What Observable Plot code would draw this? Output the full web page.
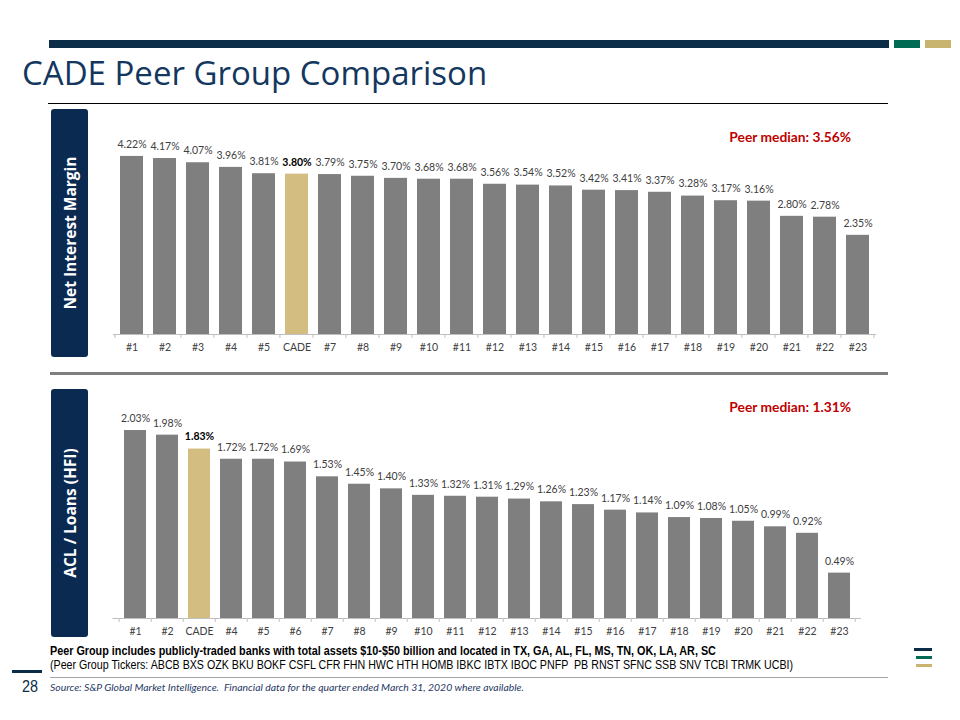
<!DOCTYPE html>
<html>
<head>
<meta charset="utf-8">
<script src="https://cdn.jsdelivr.net/npm/d3@7"></script>
<script src="https://cdn.jsdelivr.net/npm/@observablehq/plot@0.6"></script>
<style>
  html, body { margin: 0; padding: 0; background: #fff; }
  #page { position: relative; width: 960px; height: 720px; overflow: hidden; background: #fff; font-family: "Open Sans", sans-serif; }
  .abs { position: absolute; }
  .box { position: absolute; background: #0b2a52; border-radius: 3px; display: flex; align-items: center; justify-content: center; }
  .box span { transform: rotate(-90deg); white-space: nowrap; color: #fff; font-weight: 700; font-size: 15.5px; font-family: "Open Sans", sans-serif; }
  .median { position: absolute; color: #c00000; font-family: Lato, sans-serif; font-weight: 700; font-size: 13.8px; white-space: nowrap; }
  .chart { position: absolute; left: 0; }
  .narrow { position: absolute; font-family: 'Liberation Sans Narrow','Arial Narrow','Liberation Sans',sans-serif; font-size: 12px; color: #000; white-space: nowrap; transform: scaleX(0.9); transform-origin: left center; }
</style>
</head>
<body>
<div id="page">
  <div class="abs" style="left:49px; top:40px; width:840px; height:8px; background:#0c2d48;"></div>
  <div class="abs" style="left:894px; top:40px; width:26px; height:8px; background:#006b52;"></div>
  <div class="abs" style="left:925px; top:40px; width:26px; height:8px; background:#c9b46f;"></div>
  <div class="abs" id="title" style="left:22px; top:50px; font-family:'Open Sans', sans-serif; font-size:33px; color:#13375e; white-space:nowrap;">CADE Peer Group Comparison</div>
  <div class="abs" style="left:48px; top:103px; width:840px; height:1px; background:#000;"></div>

  <div class="box" style="left:51px; top:109px; width:37px; height:248px;"><span>Net Interest Margin</span></div>
  <div class="median" style="right:109px; top:128px;">Peer median: 3.56%</div>
  <div class="chart" id="chart1" style="top:110px;"></div>

  <div class="abs" style="left:50px; top:372px; width:838px; height:3px; background:#7f7f7f;"></div>

  <div class="box" style="left:51px; top:389px; width:37px; height:248px;"><span>ACL / Loans (HFI)</span></div>
  <div class="median" style="right:109px; top:398px;">Peer median: 1.31%</div>
  <div class="chart" id="chart2" style="top:390px;"></div>

  <div class="narrow" style="left:50px; top:644px; font-weight:700;">Peer Group includes publicly-traded banks with total assets $10-$50 billion and located in TX, GA, AL, FL, MS, TN, OK, LA, AR, SC</div>
  <div class="narrow" style="left:50px; top:658px; transform:scaleX(0.888);">(Peer Group Tickers: ABCB BXS OZK BKU BOKF CSFL CFR FHN HWC HTH HOMB IBKC IBTX IBOC PNFP &nbsp;PB RNST SFNC SSB SNV TCBI TRMK UCBI)</div>
  <div class="abs" style="left:12px; top:670px; width:30px; height:3px; background:#0c2d48;"></div>
  <div class="abs" style="left:50px; top:677px; width:838px; height:1px; background:#a6a6a6;"></div>
  <div class="narrow" style="left:22px; top:678px; font-size:16px; color:#0c2d48;">28</div>
  <div class="abs" style="left:50px; top:681px; font-family:Lato, sans-serif; font-style:italic; font-size:10.4px; color:#1f3864; white-space:nowrap;">Source: S&amp;P Global Market Intelligence.&nbsp; Financial data for the quarter ended March 31, 2020 where available.</div>

  <div class="abs" style="left:914px; top:648px; width:18px; height:3px; background:#0c2d48;"></div>
  <div class="abs" style="left:916px; top:656px; width:16px; height:3px; background:#006b52;"></div>
  <div class="abs" style="left:916px; top:664px; width:16px; height:3px; background:#c9b46f;"></div>
</div>
<script>
// ---- Data ----
const nimLabels = ["#1","#2","#3","#4","#5","CADE","#7","#8","#9","#10","#11","#12","#13","#14","#15","#16","#17","#18","#19","#20","#21","#22","#23"];
const nimValues = [4.22,4.17,4.07,3.96,3.81,3.80,3.79,3.75,3.70,3.68,3.68,3.56,3.54,3.52,3.42,3.41,3.37,3.28,3.17,3.16,2.80,2.78,2.35];

const aclLabels = ["#1","#2","CADE","#4","#5","#6","#7","#8","#9","#10","#11","#12","#13","#14","#15","#16","#17","#18","#19","#20","#21","#22","#23"];
const aclValues = [2.03,1.98,1.83,1.72,1.72,1.69,1.53,1.45,1.40,1.33,1.32,1.31,1.29,1.26,1.23,1.17,1.14,1.09,1.08,1.05,0.99,0.92,0.49];

const highlight = "CADE";
const barGray = "#7f7f7f";
const barGold = "#d3bd80";

function makeChart(labels, values, opts) {
  const data = labels.map((name, i) => ({name, value: values[i]}));
  const pi = opts.paddingInner;
  // Excel-style tick marks at category boundaries, placed via the x scale
  const boundaryTicks = (index, scales, vals, dims) => {
    const x = scales.x;
    const step = x(labels[1]) - x(labels[0]);
    const y0 = dims.height - dims.marginBottom;
    const g = d3.create("svg:g").attr("stroke", "#bfbfbf").attr("stroke-width", 1);
    const xs = labels.map(l => x(l) - pi * step / 2);
    xs.push(x(labels[labels.length - 1]) + step - pi * step / 2);
    for (const xv of xs) {
      g.append("line").attr("x1", xv).attr("x2", xv).attr("y1", y0).attr("y2", y0 + 4);
    }
    return g.node();
  };
  return Plot.plot({
    width: 960,
    height: opts.height,
    marginLeft: opts.marginLeft,
    marginRight: opts.marginRight,
    marginTop: 0,
    marginBottom: opts.marginBottom,
    style: {fontFamily: "Lato, sans-serif", fontSize: "10.5px", color: "#404040", background: "transparent", overflow: "visible"},
    x: {domain: labels, paddingInner: pi, paddingOuter: opts.paddingOuter, label: null},
    y: {domain: [0, opts.yMax], axis: null},
    marks: [
      Plot.barY(data, {x: "name", y: "value", fill: d => d.name === highlight ? barGold : barGray}),
      Plot.ruleY([0], {stroke: "#bfbfbf", strokeWidth: 1}),
      boundaryTicks,
      Plot.text(data.filter(d => d.name !== highlight), {x: "name", y: "value", text: d => d.value.toFixed(2) + "%", dy: -12, fill: "#404040", fontSize: 10.5}),
      Plot.text(data.filter(d => d.name === highlight), {x: "name", y: "value", text: d => d.value.toFixed(2) + "%", dy: -12, fill: "#000", fontWeight: "bold", fontSize: 10.5}),
      Plot.axisX({tickSize: 0, tickPadding: 9, fontSize: 10.5, label: null})
    ]
  });
}

document.getElementById("chart1").appendChild(makeChart(nimLabels, nimValues, {
  height: 254, marginBottom: 30, marginLeft: 113, marginRight: 84,
  paddingInner: 0.306, paddingOuter: 0.163, yMax: 224 / 42.2
}));
document.getElementById("chart2").appendChild(makeChart(aclLabels, aclValues, {
  height: 258, marginBottom: 30, marginLeft: 112.5, marginRight: 99,
  paddingInner: 0.30, paddingOuter: 0.15, yMax: 228 / 92.6
}));
</script>
</body>
</html>
